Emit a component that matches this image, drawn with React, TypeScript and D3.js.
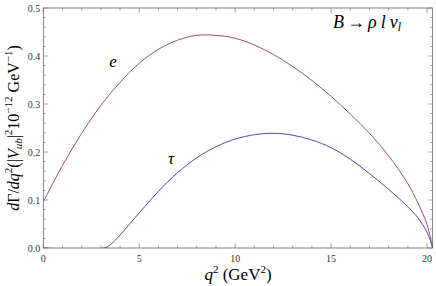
import React from "react";
import * as d3 from "d3";

const eQ = [0, 1, 2, 3, 4, 5, 6, 7, 8, 9, 10, 11, 12, 13, 14, 15, 16, 17, 18, 19, 19.5, 20, 20.29];
const eVal = [0.096, 0.172, 0.239, 0.297, 0.345, 0.385, 0.414, 0.433, 0.443, 0.443, 0.437, 0.423, 0.403, 0.378, 0.349, 0.316, 0.279, 0.239, 0.192, 0.134, 0.096, 0.049, 0];

const tauQ = [0, 3.157, 3.5, 4, 4.5, 5, 6, 7, 8, 9, 10, 11, 12, 13, 14, 15, 16, 17, 18, 19, 19.5, 20, 20.29];
const tauVal = [0, 0, 0.007, 0.027, 0.05, 0.073, 0.118, 0.157, 0.188, 0.211, 0.227, 0.236, 0.239, 0.235, 0.225, 0.209, 0.185, 0.155, 0.122, 0.086, 0.064, 0.033, 0];

const xTicks = [0, 5, 10, 15, 20];
const yTicks = [0, 0.1, 0.2, 0.3, 0.4, 0.5];

const W = 436, H = 286;
const L = 43.3, R = 432.6, T = 8, B = 248;
const FONT = "Liberation Serif";

export default function App() {
  const x = d3.scaleLinear().domain([0, 20.29]).range([L, R]);
  const y = d3.scaleLinear().domain([0, 0.5]).range([B, T]);
  const line = d3.line<[number, number]>().x(d => x(d[0])).y(d => y(d[1])).curve(d3.curveCatmullRom.alpha(0.5));
  const eData = eQ.map((q, i) => [q, eVal[i]] as [number, number]);
  const tauData = tauQ.map((q, i) => [q, tauVal[i]] as [number, number]);
  const minorX = d3.range(0, 21, 1);
  const minorY = d3.range(0, 0.501, 0.02);
  const frameColor = "#666";
  const fs = { fontFamily: `"${FONT}"` };
  return (
    <svg width={W} height={H} style={{ position: "absolute", left: 0, top: 0 }}>
      <style>{`text, tspan { font-family: "Liberation Serif", "Times New Roman", serif; }`}</style>
      <rect x={0} y={0} width={W} height={H} fill="white" />
      <defs>
        <clipPath id="clip"><rect x={L} y={T} width={R - L + 1} height={B - T} /></clipPath>
      </defs>
      {minorX.map(v => {
        const major = v % 5 === 0;
        const len = major ? 5 : 2.5;
        return (
          <g key={"x" + v} stroke={frameColor} strokeWidth={0.6}>
            <line x1={x(v)} x2={x(v)} y1={B} y2={B - len} />
            <line x1={x(v)} x2={x(v)} y1={T} y2={T + len} />
          </g>
        );
      })}
      {minorY.map((v, i) => {
        const major = i % 5 === 0;
        const len = major ? 5 : 2.5;
        return (
          <g key={"y" + i} stroke={frameColor} strokeWidth={0.6}>
            <line x1={L} x2={L + len} y1={y(v)} y2={y(v)} />
            <line x1={R} x2={R - len} y1={y(v)} y2={y(v)} />
          </g>
        );
      })}
      <rect x={L} y={T} width={R - L} height={B - T} fill="none" stroke={frameColor} strokeWidth={0.8} />
      {xTicks.map(v => (
        <text key={"xl" + v} x={x(v)} y={B + 14} textAnchor="middle" fontSize={10} fill="#333" fontFamily={FONT} style={fs}>{v}</text>
      ))}
      {yTicks.map(v => (
        <text key={"yl" + v} x={L - 3} y={y(v) + 3.5} textAnchor="end" fontSize={10} fill="#333" fontFamily={FONT} style={fs}>{v.toFixed(1)}</text>
      ))}
      <g clipPath="url(#clip)" fill="none" strokeWidth={1}>
        <path d={line(eData) || ""} stroke="#a24a7e" />
        <path d={line(tauData) || ""} stroke="#4c4ca8" />
      </g>
      <text x={113} y={67} fontSize={17} fontStyle="italic" textAnchor="middle" fontFamily={FONT} style={fs}>e</text>
      <text x={171} y={164} fontSize={17} fontStyle="italic" textAnchor="middle" fontFamily={FONT} style={fs}>τ</text>
      <text x={333} y={28} fontSize={18} fontFamily={FONT} style={fs}>
        <tspan fontStyle="italic">B</tspan>
        <tspan dx={3}>→</tspan>
        <tspan fontStyle="italic" dx={3}>ρ</tspan>
        <tspan fontStyle="italic" dx={4}>l</tspan>
        <tspan fontStyle="italic" dx={4}>ν</tspan>
        <tspan fontStyle="italic" fontSize={12} dy={3}>l</tspan>
      </text>
      <text x={238} y={280} fontSize={17} textAnchor="middle" fontFamily={FONT} style={fs}>
        <tspan fontStyle="italic">q</tspan>
        <tspan fontSize={11} dy={-7}>2</tspan>
        <tspan dy={7}> (GeV</tspan>
        <tspan fontSize={11} dy={-7}>2</tspan>
        <tspan dy={7}>)</tspan>
      </text>
      <text transform={`translate(19,128) rotate(-90)`} fontSize={16} textAnchor="middle" fontFamily={FONT} style={fs}>
        <tspan fontStyle="italic">d</tspan>
        <tspan>Γ/</tspan>
        <tspan fontStyle="italic">dq</tspan>
        <tspan fontSize={11} dy={-7}>2</tspan>
        <tspan dy={7}>(|</tspan>
        <tspan fontStyle="italic">V</tspan>
        <tspan fontStyle="italic" fontSize={11} dy={3}>ub</tspan>
        <tspan dy={-3}>|</tspan>
        <tspan fontSize={11} dy={-7}>2</tspan>
        <tspan dy={7}>10</tspan>
        <tspan fontSize={11} dy={-7}>−12</tspan>
        <tspan dy={7}> GeV</tspan>
        <tspan fontSize={11} dy={-7}>−1</tspan>
        <tspan dy={7}>)</tspan>
      </text>
    </svg>
  );
}
